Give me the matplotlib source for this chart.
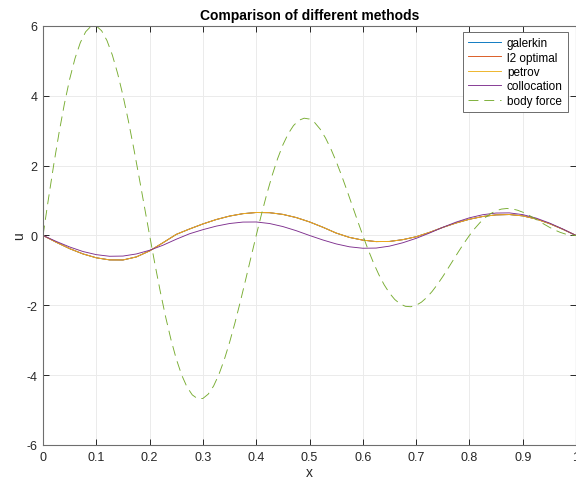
import matplotlib
matplotlib.use("Agg")
import matplotlib.pyplot as plt
import numpy as np

# body force, read every 0.01
x_force = np.linspace(0, 1, 101)
body_force = [0.000, 1.032, 2.019, 2.936, 3.762, 4.478, 5.070, 5.524, 5.833, 5.992,
              6.000, 5.860, 5.580, 5.168, 4.638, 4.007, 3.292, 2.512, 1.689, 0.845,
              0.000, -0.824, -1.607, -2.331, -2.978, -3.536, -3.991, -4.336, -4.565, -4.675,
              -4.667, -4.543, -4.312, -3.980, -3.560, -3.064, -2.508, -1.907, -1.277, -0.636,
              0.000, 0.615, 1.195, 1.725, 2.194, 2.593, 2.912, 3.148, 3.297, 3.358,
              3.333, 3.227, 3.044, 2.792, 2.481, 2.121, 1.724, 1.301, 0.865, 0.427,
              0.000, -0.407, -0.783, -1.120, -1.411, -1.650, -1.834, -1.960, -2.029, -2.041,
              -2.000, -1.910, -1.775, -1.604, -1.402, -1.179, -0.940, -0.696, -0.453, -0.219,
              0.000, 0.198, 0.371, 0.515, 0.627, 0.707, 0.755, 0.772, 0.761, 0.724,
              0.667, 0.593, 0.507, 0.416, 0.324, 0.236, 0.157, 0.091, 0.041, 0.010, 0.000]

# approximate solutions, read every 0.025
x_sol = [0.000, 0.025, 0.050, 0.075, 0.100, 0.125, 0.150, 0.175, 0.200, 0.225,
         0.250, 0.275, 0.300, 0.325, 0.350, 0.375, 0.400, 0.425, 0.450, 0.475,
         0.500, 0.525, 0.550, 0.575, 0.600, 0.625, 0.650, 0.675, 0.700, 0.725,
         0.750, 0.775, 0.800, 0.825, 0.850, 0.875, 0.900, 0.925, 0.950, 0.975, 1.000]
petrov = [0.000, -0.196, -0.378, -0.529, -0.640, -0.700, -0.702, -0.615, -0.442, -0.209,
          0.031, 0.186, 0.330, 0.456, 0.555, 0.624, 0.657, 0.652, 0.603, 0.513,
          0.388, 0.236, 0.069, -0.056, -0.134, -0.176, -0.171, -0.120, -0.037, 0.088,
          0.230, 0.357, 0.464, 0.543, 0.589, 0.599, 0.561, 0.472, 0.341, 0.179, 0.000]
galerkin = list(petrov)
l2_optimal = list(petrov)
collocation = [0.000, -0.172, -0.330, -0.460, -0.550, -0.596, -0.590, -0.530, -0.424, -0.280,
               -0.108, 0.049, 0.166, 0.267, 0.342, 0.383, 0.386, 0.342, 0.255, 0.137,
               0.000, -0.129, -0.242, -0.325, -0.366, -0.361, -0.306, -0.209, -0.083, 0.068,
               0.233, 0.382, 0.505, 0.594, 0.642, 0.646, 0.597, 0.498, 0.357, 0.187, 0.000]

plt.rcParams["font.family"] = ["Liberation Sans", "DejaVu Sans"]
plt.rcParams["axes.unicode_minus"] = False
dark = "#262626"

fig = plt.figure(figsize=(5.76, 4.81), dpi=100)
ax = fig.add_axes([0.0747, 0.0728, 0.9253, 0.8712])

lw = 0.65
ax.plot(x_sol, galerkin, color=(0, 0.447, 0.741), lw=lw, label="galerkin")
ax.plot(x_sol, l2_optimal, color=(0.85, 0.325, 0.098), lw=lw, label="l2 optimal")
ax.plot(x_sol, petrov, color=(0.929, 0.694, 0.125), lw=lw, label="petrov")
ax.plot(x_sol, collocation, color=(0.494, 0.184, 0.556), lw=lw, label="collocation")
ax.plot(x_force, body_force, color=(0.466, 0.674, 0.188), lw=lw, dashes=(11, 6.5),
        label="body force")

ax.set_xlim(0, 1)
ax.set_ylim(-6, 6)
ax.set_xticks(np.arange(0, 1.01, 0.1))
ax.set_xticklabels(["0", "0.1", "0.2", "0.3", "0.4", "0.5", "0.6", "0.7", "0.8", "0.9", "1"])
ax.set_yticks(np.arange(-6, 7, 2))
ax.grid(True, color="#ebebeb", lw=0.7)
ax.set_axisbelow(True)
ax.tick_params(direction="in", length=4, width=0.7, colors=dark, labelsize=9,
               top=True, right=True, pad=4)
for s in ax.spines.values():
    s.set_color("#6e6e6e")
    s.set_linewidth(0.8)

ax.set_title("Comparison of different methods", fontsize=10, fontweight="bold", pad=5)
ax.set_xlabel("x", fontsize=10, color=dark, labelpad=2)
ax.set_ylabel("u", fontsize=10, color=dark, labelpad=0)

leg = ax.legend(loc="upper right", bbox_to_anchor=(0.985, 0.9857), fontsize=8.5,
                fancybox=False, framealpha=1, edgecolor="#555555", handlelength=2.8,
                handletextpad=0.5, borderpad=0.45, labelspacing=0.2, borderaxespad=0)
leg.get_frame().set_linewidth(0.6)

fig.savefig("out.png", dpi=100)
